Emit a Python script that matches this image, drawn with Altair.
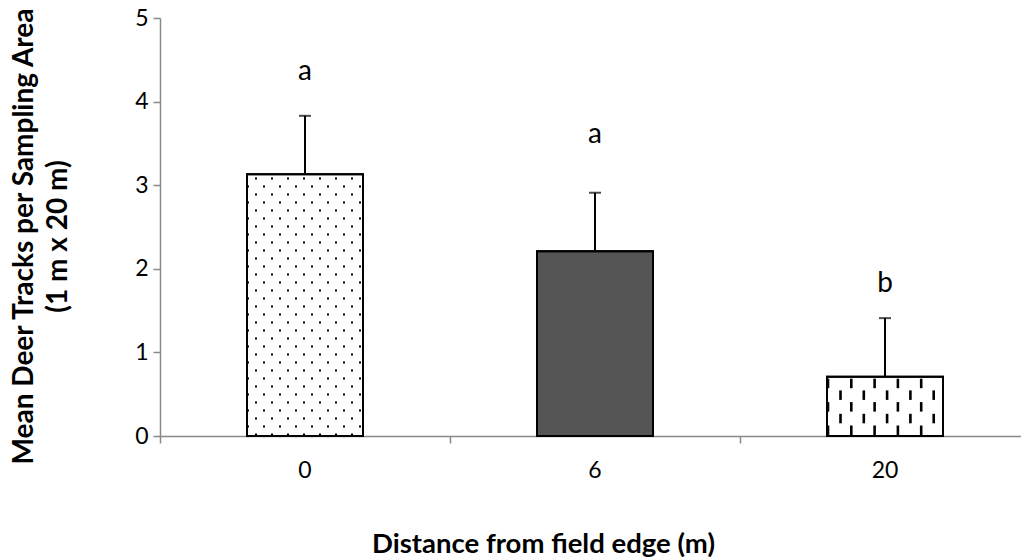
import altair as alt
import pandas as pd

# ---- data ----
categories = ["0", "6", "20"]
means = [3.13, 2.21, 0.71]
errors = [0.70, 0.70, 0.70]
letters = ["a", "a", "b"]
letter_y = [4.26, 3.50, 1.72]
fills = ["white", "#555555", "white"]
y_ticks = [0, 1, 2, 3, 4, 5]
band_edges = [0, 1, 2, 3]

FONT = "Lato"
PLOT_W = 870  # full band range (axis runs off the right edge)
GREY = "#898989"

df = pd.DataFrame({
    "cat": categories,
    "mean": means,
    "top": [m + e for m, e in zip(means, errors)],
    "letter": letters,
    "ly": letter_y,
    "fill": fills,
})
edges_df = pd.DataFrame({"e": band_edges, "z": [0] * len(band_edges)})

# ---- pattern helpers (positions derived from the bar values) ----
PX_Y = 5 / 418.0        # data units per pixel (y)
PX_X = 3 / PLOT_W       # data units per pixel (x quantitative overlay)

dots = []
v = means[0]
k = 0
y = 1.5 * PX_Y
while y < v - PX_Y:
    offs = [9 + 16 * j for j in range(7)] if k % 2 == 0 else [1 + 16 * j for j in range(8)]
    for o in offs:
        if o <= 114:
            dots.append({"x": 0.3 + o * PX_X, "y": y})
    y += 8 * PX_Y
    k += 1
dots_df = pd.DataFrame(dots)

dashes = []
v = means[2]
k = 0
ylo = 1.0 * PX_Y
while ylo < v - 2 * PX_Y:
    yhi = min(ylo + 9.5 * PX_Y, v)
    offs = [1 + 23.3 * j for j in range(5)] if k % 2 == 0 else [13.5 + 23.3 * j for j in range(5)]
    for o in offs:
        if o <= 114:
            dashes.append({"x": 2.3 + o * PX_X, "y": ylo, "y2": yhi})
    ylo += 11.7 * PX_Y
    k += 1
dash_df = pd.DataFrame(dashes)

yscale = alt.Scale(domain=[0, 5], nice=False, zero=True)
band = alt.Scale(domain=categories, range=[0, PLOT_W], paddingInner=0.6, paddingOuter=0.3)
qx = alt.Scale(domain=[0, 3], range=[0, PLOT_W], nice=False, zero=False)

# labels + title only (band axis)
x_axis = alt.Axis(
    orient="bottom",
    title="Distance from field edge (m)",
    titleFont=FONT, titleFontSize=27.5, titleFontWeight="bold", titleColor="black",
    titleX=383, titleY=116, titleAnchor="start", titleAlign="center", titleBaseline="alphabetic",
    labelFont=FONT, labelFontSize=23, labelColor="black", labelAngle=0, labelPadding=23,
    ticks=False, domain=False, grid=False,
)
# domain + interval ticks (quantitative overlay axis)
x_tick_axis = alt.Axis(
    orient="bottom", title=None, labels=False, values=band_edges,
    tickSize=7, tickColor=GREY, tickWidth=1.5,
    domainColor=GREY, domainWidth=1.5, grid=False,
)
y_axis = alt.Axis(
    title=["Mean Deer Tracks per Sampling Area", "(1 m x 20 m)"],
    titleFont=FONT, titleFontSize=28, titleFontWeight="bold", titleColor="black",
    titleAngle=-90, titleX=-128, titleY=218, titleAlign="center", titleBaseline="alphabetic",
    titleLineHeight=34, titleAnchor="start",
    values=y_ticks, labelFont=FONT, labelFontSize=23, labelColor="black", labelPadding=5,
    tickSize=7, tickColor=GREY, tickWidth=1.5,
    domainColor=GREY, domainWidth=1.5, grid=False,
)

base = alt.Chart(df)

bars = base.mark_bar(stroke="black", strokeWidth=2).encode(
    x=alt.X("cat:N", scale=band, axis=x_axis, sort=categories),
    y=alt.Y("mean:Q", scale=yscale, axis=y_axis),
    fill=alt.Fill("fill:N", scale=None),
)

edge_layer = alt.Chart(edges_df).mark_point(opacity=0, size=1).encode(
    x=alt.X("e:Q", scale=qx, axis=x_tick_axis),
    y=alt.Y("z:Q", scale=yscale, axis=None),
)

dot_layer = alt.Chart(dots_df).mark_square(size=4, color="black", opacity=1).encode(
    x=alt.X("x:Q", scale=qx, axis=None),
    y=alt.Y("y:Q", scale=yscale, axis=None),
)

dash_layer = alt.Chart(dash_df).mark_rule(color="black", strokeWidth=2.6).encode(
    x=alt.X("x:Q", scale=qx, axis=None),
    y=alt.Y("y:Q", scale=yscale, axis=None),
    y2="y2:Q",
)

outline = base.mark_bar(stroke="black", strokeWidth=2, fillOpacity=0, fill="white").encode(
    x=alt.X("cat:N", scale=band, axis=None, sort=categories),
    y=alt.Y("mean:Q", scale=yscale, axis=None),
)

err = base.mark_rule(color="black", strokeWidth=2).encode(
    x=alt.X("cat:N", scale=band, axis=None, sort=categories),
    y=alt.Y("mean:Q", scale=yscale, axis=None),
    y2="top:Q",
)

cap = base.mark_tick(color="black", thickness=2, size=12).encode(
    x=alt.X("cat:N", scale=band, axis=None, sort=categories),
    y=alt.Y("top:Q", scale=yscale, axis=None),
)

txt = base.mark_text(font=FONT, fontSize=28, color="black", baseline="alphabetic", align="center").encode(
    x=alt.X("cat:N", scale=band, axis=None, sort=categories),
    y=alt.Y("ly:Q", scale=yscale, axis=None),
    text="letter:N",
)

chart = alt.layer(bars, edge_layer, dot_layer, dash_layer, outline, err, cap, txt).resolve_scale(
    x="independent"
).resolve_axis(
    x="independent", y="independent"
).properties(
    width=861, height=418,
    autosize=alt.AutoSizeParams(type="none"),
    padding={"left": 160, "top": 18, "right": 0, "bottom": 121},
    background="white",
).configure_view(stroke=None)

chart.save("out.html", embed_options={"renderer": "svg", "actions": False})
